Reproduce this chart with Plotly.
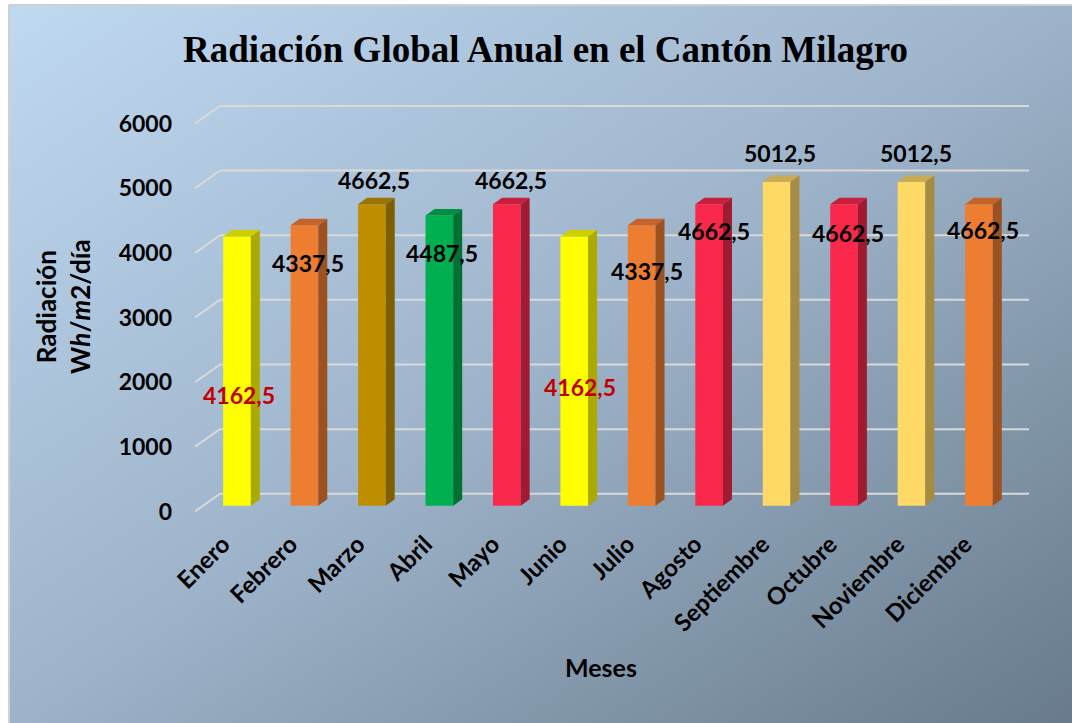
import base64
import plotly.graph_objects as go

# ---------------- data ----------------
months = ["Enero", "Febrero", "Marzo", "Abril", "Mayo", "Junio", "Julio",
          "Agosto", "Septiembre", "Octubre", "Noviembre", "Diciembre"]
radiation = [4162.5, 4337.5, 4662.5, 4487.5, 4662.5, 4162.5, 4337.5,
             4662.5, 5012.5, 4662.5, 5012.5, 4662.5]
y_ticks = [0, 1000, 2000, 3000, 4000, 5000, 6000]

# ---------------- styles ----------------
front_colors = ["#FFFF00", "#ED7D31", "#BF8F00", "#00B050", "#FA284A", "#FFFF00",
                "#ED7D31", "#FA284A", "#FFD966", "#FA284A", "#FFD966", "#ED7D31"]
top_colors = ["#CFCF00", "#C4632A", "#9A7300", "#008F40", "#C8203C", "#CFCF00",
              "#C4632A", "#C8203C", "#C9AB52", "#C8203C", "#C9AB52", "#C4632A"]
side_colors = ["#AAAA00", "#9C5120", "#7F5F00", "#007033", "#A01A32", "#AAAA00",
               "#9C5120", "#A01A32", "#A68C42", "#A01A32", "#A68C42", "#9C5120"]
label_colors = ["#C00000", "#000000", "#000000", "#000000", "#000000", "#C00000",
                "#000000", "#000000", "#000000", "#000000", "#000000", "#000000"]
# label offsets in px relative to the top-centre of each bar (dx right, dy down)
label_dx = [2, 4, 2, 3, 4, 6, 5, 5, 3, 4, 4, 4]
label_dy = [158, 38, -24, 37, -24, 150, 46, 27, -29, 29, -29, 26]

W, H = 1072, 723
FONT = "Lato"

# pixel geometry of plot area
x_left_px, x_right_px = 195, 1029
cat_px = 67.45
first_center_px = 237.0
x_range = [(x_left_px - first_center_px) / cat_px, (x_right_px - first_center_px) / cat_px]
px_per_unit = 0.06465
zero_px = 505.7
y_range = [-200, 6400]
y_bot_px = zero_px - px_per_unit * y_range[0]
y_top_px = zero_px - px_per_unit * y_range[1]

bar_w = 0.41
depth_dx = 9.0 / cat_px          # 3D depth in category units
depth_dy = 6.5 / px_per_unit     # 3D depth in value units
back_off = 184                   # back wall grid offset (value units)
front_off = -89                  # front floor grid offset (value units)
wall_x = (220 - first_center_px) / cat_px

fig = go.Figure()

xs = list(range(len(months)))

# front faces
fig.add_trace(go.Bar(x=xs, y=radiation, width=bar_w, marker=dict(color=front_colors, line=dict(width=0)),
                     hoverinfo="skip", showlegend=False))

# side and top faces
for i, v in enumerate(radiation):
    xl, xr = i - bar_w / 2, i + bar_w / 2
    fig.add_trace(go.Scatter(
        x=[xr, xr + depth_dx, xr + depth_dx, xr, xr],
        y=[0, depth_dy, v + depth_dy, v, 0],
        fill="toself", fillcolor=side_colors[i], mode="lines", line=dict(width=0),
        hoverinfo="skip", showlegend=False))
    fig.add_trace(go.Scatter(
        x=[xl, xl + depth_dx, xr + depth_dx, xr, xl],
        y=[v, v + depth_dy, v + depth_dy, v, v],
        fill="toself", fillcolor=top_colors[i], mode="lines", line=dict(width=0),
        hoverinfo="skip", showlegend=False))

# gridlines (3D: slanted floor part + back wall)
shapes = []
for t in y_ticks:
    shapes.append(dict(type="line", xref="x", yref="y", x0=x_range[0], y0=t + front_off,
                       x1=wall_x, y1=t + back_off, line=dict(color="#D9D9D9", width=2), layer="below"))
    shapes.append(dict(type="line", xref="x", yref="y", x0=wall_x, y0=t + back_off,
                       x1=x_range[1], y1=t + back_off, line=dict(color="#D9D9D9", width=2), layer="below"))
# outer border lines
shapes.append(dict(type="line", xref="paper", yref="paper", x0=9 / W, x1=9 / W, y0=0, y1=1 - 5 / H,
                   line=dict(color="#D0D0D0", width=2)))
shapes.append(dict(type="line", xref="paper", yref="paper", x0=9 / W, x1=1, y0=1 - 5 / H, y1=1 - 5 / H,
                   line=dict(color="#D0D0D0", width=2)))

# data labels
annotations = []
for i, v in enumerate(radiation):
    annotations.append(dict(x=i, y=v, xref="x", yref="y", text=f"<b>{v:.1f}</b>".replace(".", ","),
                            showarrow=False, xanchor="center", yanchor="middle",
                            xshift=label_dx[i], yshift=-label_dy[i],
                            font=dict(family=FONT, size=23, color=label_colors[i])))

# titles
annotations.append(dict(x=545 / W, y=1 - 50 / H, xref="paper", yref="paper",
                        text="<b>Radiación Global Anual en el Cantón Milagro</b>", showarrow=False,
                        xanchor="center", yanchor="middle",
                        font=dict(family="Liberation Serif", size=37, color="#000000")))
annotations.append(dict(x=63 / W, y=1 - 307 / H, xref="paper", yref="paper",
                        text="<b>Radiación</b><br><b>W<i>h</i>/<i>m</i>2/día</b>", showarrow=False,
                        textangle=-90, xanchor="center", yanchor="middle",
                        font=dict(family=FONT, size=26, color="#000000")))
annotations.append(dict(x=601 / W, y=1 - 667 / H, xref="paper", yref="paper",
                        text="<b>Meses</b>", showarrow=False, xanchor="center", yanchor="middle",
                        font=dict(family=FONT, size=25, color="#000000")))

# gradient background
svg = ('<svg xmlns="http://www.w3.org/2000/svg" width="1062" height="717" preserveAspectRatio="none">'
       '<defs><linearGradient id="g" x1="0" y1="0" x2="1" y2="1">'
       '<stop offset="0" stop-color="#BFD9F1"/><stop offset="0.5" stop-color="#9DB3C9"/>'
       '<stop offset="1" stop-color="#687A8C"/></linearGradient></defs>'
       '<rect width="100%" height="100%" fill="url(#g)"/></svg>')
src = "data:image/svg+xml;base64," + base64.b64encode(svg.encode()).decode()

fig.update_layout(
    width=W, height=H,
    margin=dict(l=0, r=0, t=0, b=0, autoexpand=False),
    paper_bgcolor="#FFFFFF", plot_bgcolor="rgba(0,0,0,0)",
    showlegend=False,
    shapes=shapes, annotations=annotations,
    images=[dict(source=src, xref="paper", yref="paper", x=10 / W, y=1 - 6 / H,
                 sizex=1 - 10 / W, sizey=1 - 6 / H, sizing="stretch", layer="below",
                 xanchor="left", yanchor="top")],
    xaxis=dict(domain=[x_left_px / W, x_right_px / W], range=x_range,
               tickmode="array", tickvals=xs, ticktext=[f"<b>{m}</b>" for m in months],
               tickangle=-45, showgrid=False, zeroline=False, showline=False, ticks="",
               ticklabelstandoff=6, ticklabelshift=-14,
               tickfont=dict(family=FONT, size=24, color="#000000")),
    yaxis=dict(domain=[1 - y_bot_px / H, 1 - y_top_px / H], range=y_range,
               tickmode="array", tickvals=[t + front_off for t in y_ticks],
               ticktext=[f"<b>{t}</b>" for t in y_ticks],
               showgrid=False, zeroline=False, showline=False, ticks="",
               ticklabelstandoff=22,
               tickfont=dict(family=FONT, size=23, color="#000000")),
)

fig.write_html("out.html", config={"displayModeBar": False, "staticPlot": True},
               post_script="document.body.style.margin='0px';document.body.style.overflow='hidden';")
